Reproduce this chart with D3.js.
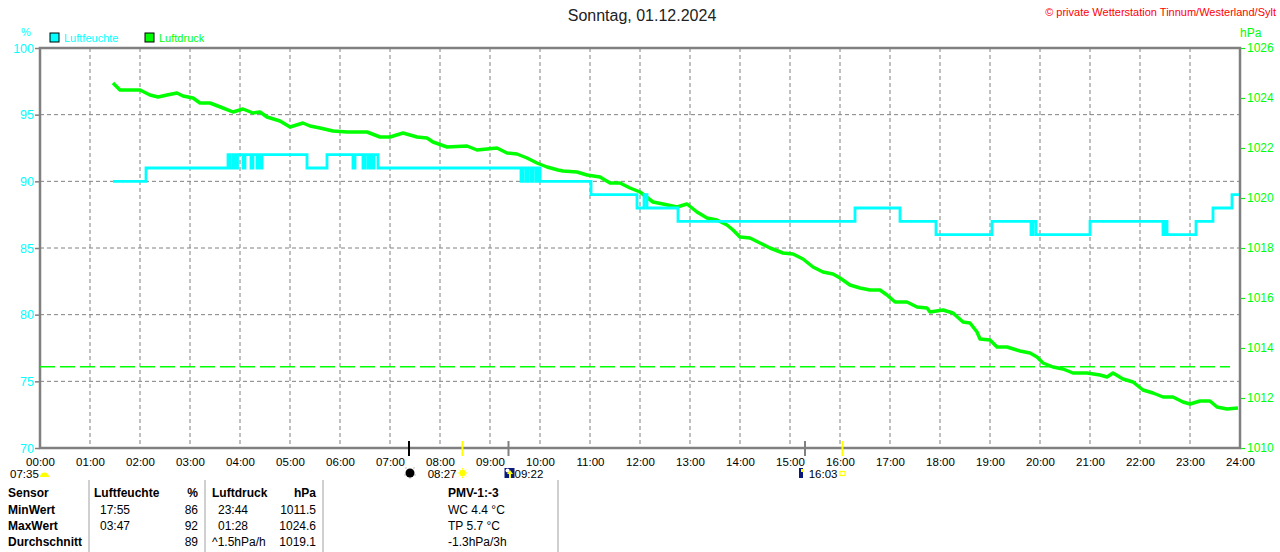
<!DOCTYPE html>
<html lang="de">
	<head>
		<meta charset="utf-8">
		<title>Luftfeuchte und Luftdruck 01.12.2024</title>
		<script type="text/javascript" src="https://cdn.jsdelivr.net/npm/d3@7"></script>
		<style type="text/css">
			body { margin: 0; background: #fff; }
			svg text { font-family: "Liberation Sans", Arial, sans-serif; }
			.axis path { display: none; }
			.grid line { stroke: #808080; stroke-width: 1; stroke-dasharray: 4,3; }
		</style>
	</head>
	<body>
		<script type="text/javascript">

			// tick values and labels
			var hourTicks = [0,1,2,3,4,5,6,7,8,9,10,11,12,13,14,15,16,17,18,19,20,21,22,23,24];
			var hourLabels = ["00:00","01:00","02:00","03:00","04:00","05:00","06:00","07:00","08:00","09:00","10:00","11:00","12:00",
				"13:00","14:00","15:00","16:00","17:00","18:00","19:00","20:00","21:00","22:00","23:00","24:00"];
			var humTicks = [70,75,80,85,90,95,100];
			var presTicks = [1010,1012,1014,1016,1018,1020,1022,1024,1026];

			// Luftfeuchte (%), steps: time in hours -> value
			var humTimes = [1.46,2.12,3.76,3.80,3.86,3.90,3.95,4.06,4.10,4.22,4.26,4.34,4.37,4.41,4.44,
				5.34,5.74,6.26,6.30,6.46,6.50,6.56,6.60,6.64,6.68,6.76,
				9.62,9.66,9.72,9.76,9.82,9.86,9.92,9.96,10.00,
				11.02,11.94,12.08,12.14,12.76,16.30,17.20,17.92,19.04,19.82,19.86,19.92,21.00,
				22.46,22.50,22.54,23.12,23.46,23.84,23.98];
			var humValues = [90,91,92,91,92,91,92,91,92,91,92,91,92,91,92,
				91,92,91,92,91,92,91,92,91,92,91,
				90,91,90,91,90,91,90,91,90,
				89,88,89,88,87,88,87,86,87,86,87,86,87,
				86,87,86,87,88,89,89];

			// Luftdruck (hPa)
			var presTimes = [1.46,1.60,2.00,2.20,2.36,2.54,2.74,2.86,3.06,3.20,3.40,3.66,3.86,4.06,4.26,4.40,4.54,4.80,5.00,
				5.26,5.40,5.60,5.86,6.14,6.54,6.80,7.00,7.26,7.54,7.74,7.86,8.14,8.54,8.74,8.94,9.14,9.34,9.54,9.74,9.94,
				10.14,10.36,10.46,10.74,10.94,11.20,11.40,11.60,11.80,12.00,12.26,12.46,12.74,12.94,13.14,13.34,13.54,13.74,13.86,
				14.00,14.20,14.40,14.60,14.86,15.06,15.26,15.46,15.66,15.86,16.00,16.20,16.40,16.60,16.80,16.94,17.10,17.34,17.54,
				17.74,17.80,18.06,18.26,18.46,18.60,18.74,18.80,19.00,19.14,19.34,19.60,19.80,19.94,20.06,20.26,20.46,20.66,20.94,
				21.20,21.34,21.46,21.66,21.86,22.06,22.26,22.46,22.66,22.86,23.00,23.20,23.40,23.54,23.74,23.96];
			var presValues = [1024.60,1024.32,1024.32,1024.12,1024.04,1024.12,1024.20,1024.08,1024.00,1023.80,1023.80,1023.60,1023.44,
				1023.56,1023.40,1023.44,1023.24,1023.08,1022.84,1023.00,1022.88,1022.80,1022.68,1022.64,1022.64,1022.44,1022.44,
				1022.60,1022.44,1022.40,1022.24,1022.04,1022.08,1021.92,1021.96,1022.00,1021.80,1021.76,1021.60,1021.40,
				1021.24,1021.12,1021.08,1021.04,1020.92,1020.84,1020.60,1020.60,1020.40,1020.24,1019.84,1019.76,1019.64,1019.76,
				1019.44,1019.20,1019.12,1018.92,1018.72,1018.44,1018.40,1018.20,1018.00,1017.80,1017.76,1017.56,1017.24,1017.04,
				1016.96,1016.80,1016.52,1016.40,1016.32,1016.32,1016.12,1015.84,1015.84,1015.64,1015.60,1015.44,1015.52,1015.40,
				1015.04,1015.00,1014.64,1014.36,1014.32,1014.04,1014.04,1013.88,1013.80,1013.64,1013.40,1013.24,1013.16,1013.00,
				1013.00,1012.92,1012.84,1013.00,1012.76,1012.64,1012.32,1012.20,1012.04,1012.04,1011.84,1011.76,1011.88,1011.88,
				1011.64,1011.56,1011.60];
			var refPressure = 1013.25;

			// sun / moon events on the time axis
			var eventTimes = [7.38, 8.45, 9.37, 15.30, 16.05];
			var eventKinds = ["newmoon","sunrise","moonrise","moonset","sunset"];

			// statistics table
			var tableHead = ["Sensor","Luftfeuchte","%","Luftdruck","hPa","PMV-1:-3"];
			var rowNames = ["MinWert","MaxWert","Durchschnitt"];
			var humTimesTab = ["17:55","03:47",""];
			var humValuesTab = ["86","92","89"];
			var presTimesTab = ["23:44","01:28","^1.5hPa/h"];
			var presValuesTab = ["1011.5","1024.6","1019.1"];
			var extraTab = ["WC 4.4 °C","TP 5.7 °C","-1.3hPa/3h"];

			var w = 1280;
			var h = 552;
			var cyan = "#00ffff";
			var green = "#00ff00";
			var frame = "#808080";

			var svg = d3.select("body").append("svg")
				.attr("width", w)
				.attr("height", h);

			var x = d3.scaleLinear().domain([0,24]).range([40,1240]);
			var yHum = d3.scaleLinear().domain([70,100]).range([448,48]);
			var yPres = d3.scaleLinear().domain([1010,1026]).range([448,48]);

			// titles
			svg.append("text")
				.attr("x", 642).attr("y", 21)
				.attr("text-anchor", "middle")
				.style("font-size", "16px")
				.style("fill", "#222")
				.text("Sonntag, 01.12.2024");

			svg.append("text")
				.attr("x", 1276).attr("y", 16)
				.attr("text-anchor", "end")
				.style("font-size", "11px")
				.style("fill", "#ff0000")
				.text("© private Wetterstation Tinnum/Westerland/Sylt");

			// legend
			var legend = [["Luftfeuchte", cyan, 50], ["Luftdruck", green, 145]];
			legend.forEach(function(d){
				svg.append("rect")
					.attr("x", d[2]).attr("y", 33)
					.attr("width", 9).attr("height", 9)
					.style("fill", d[1]).style("stroke", "#000");
				svg.append("text")
					.attr("x", d[2] + 14).attr("y", 42)
					.style("font-size", "11px")
					.style("fill", d[1])
					.text(d[0]);
			});

			svg.append("text").attr("x", 26).attr("y", 36).attr("text-anchor", "middle")
				.style("font-size", "11px").style("fill", cyan).text("%");
			svg.append("text").attr("x", 1240).attr("y", 37)
				.style("font-size", "12px").style("fill", green).text("hPa");

			// grid
			var grid = svg.append("g").attr("class", "grid");
			grid.selectAll("line.v")
				.data(hourTicks.slice(1, -1))
				.enter().append("line")
				.attr("class", "v")
				.attr("x1", function(d){ return x(d); })
				.attr("x2", function(d){ return x(d); })
				.attr("y1", yHum(100)).attr("y2", yHum(70));
			grid.selectAll("line.hz")
				.data(humTicks.slice(1, -1))
				.enter().append("line")
				.attr("class", "hz")
				.attr("x1", x(0)).attr("x2", x(24))
				.attr("y1", function(d){ return yHum(d); })
				.attr("y2", function(d){ return yHum(d); });

			// axes
			var leftAxis = svg.append("g")
				.attr("class", "axis")
				.attr("transform", "translate(" + x(0) + ",0)")
				.call(d3.axisLeft(yHum).tickValues(humTicks).tickSize(5).tickPadding(1));
			leftAxis.selectAll("line").style("stroke", frame).style("stroke-width", 1.5);
			leftAxis.selectAll("text").style("fill", cyan).style("font-size", "12.5px").style("font-family", "Liberation Sans, Arial, sans-serif");

			var rightAxis = svg.append("g")
				.attr("class", "axis")
				.attr("transform", "translate(" + x(24) + ",0)")
				.call(d3.axisRight(yPres).tickValues(presTicks).tickSize(5).tickPadding(2).tickFormat(d3.format("d")));
			rightAxis.selectAll("line").style("stroke", green).style("stroke-width", 1.2);
			rightAxis.selectAll("text").style("fill", green).style("font-size", "12px").style("font-family", "Liberation Sans, Arial, sans-serif");

			var bottomAxis = svg.append("g")
				.attr("class", "axis")
				.attr("transform", "translate(0," + yHum(70) + ")")
				.call(d3.axisBottom(x).tickValues(hourTicks).tickSize(0).tickPadding(10)
					.tickFormat(function(d, i){ return hourLabels[i]; }));
			bottomAxis.selectAll("text").style("fill", "#000").style("font-size", "11.5px").style("font-family", "Liberation Sans, Arial, sans-serif");

			// frame
			svg.append("rect")
				.attr("x", x(0)).attr("y", yHum(100))
				.attr("width", x(24) - x(0)).attr("height", yHum(70) - yHum(100))
				.style("fill", "none")
				.style("stroke", frame)
				.style("stroke-width", 2.5);

			// reference pressure
			svg.append("line")
				.attr("x1", x(0)).attr("x2", x(23.8))
				.attr("y1", yPres(refPressure)).attr("y2", yPres(refPressure))
				.style("stroke", green)
				.style("stroke-width", 1.5)
				.style("stroke-dasharray", "15,5");

			// pressure line
			var presLine = d3.line()
				.x(function(d, i){ return x(presTimes[i]); })
				.y(function(d){ return yPres(d); });
			svg.append("path")
				.datum(presValues)
				.attr("d", presLine)
				.style("fill", "none")
				.style("stroke", green)
				.style("stroke-width", 3.5)
				.style("stroke-linejoin", "round");

			// humidity steps
			var humLine = d3.line()
				.x(function(d, i){ return x(humTimes[i]); })
				.y(function(d){ return yHum(d); })
				.curve(d3.curveStepAfter);
			svg.append("path")
				.datum(humValues)
				.attr("d", humLine)
				.style("fill", "none")
				.style("stroke", cyan)
				.style("stroke-width", 2.8);

			// event markers on the time axis
			var eventColor = { newmoon: "#000", sunrise: "#ffff00", moonrise: "#808080", moonset: "#808080", sunset: "#ffff00" };
			svg.selectAll("line.event")
				.data(eventTimes)
				.enter().append("line")
				.attr("class", "event")
				.attr("x1", function(d){ return x(d); })
				.attr("x2", function(d){ return x(d); })
				.attr("y1", 441).attr("y2", 456)
				.style("stroke", function(d, i){ return eventColor[eventKinds[i]]; })
				.style("stroke-width", function(d, i){ return eventKinds[i].indexOf("moon") == 4 ? 3 : 2; });

			// icons row
			var icons = svg.append("g").style("font-size", "11.5px");
			icons.append("text").attr("x", 10).attr("y", 478).text("07:35");
			icons.append("path").attr("d", "M40,477 A4.5,4.5 0 0 1 49,477 Z").style("fill", "#ffff00");

			var nm = x(eventTimes[0]) + 1;
			icons.append("rect").attr("x", nm - 5).attr("y", 468).attr("width", 10).attr("height", 10)
				.style("fill", "none").style("stroke", "#c0c0c0").style("stroke-dasharray", "2,6");
			icons.append("circle").attr("cx", nm).attr("cy", 473).attr("r", 4.5).style("fill", "#000");

			var sr = x(eventTimes[1]);
			icons.append("text").attr("x", sr - 6).attr("y", 478).attr("text-anchor", "end").text("08:27");
			icons.append("circle").attr("cx", sr).attr("cy", 473).attr("r", 3.2).style("fill", "#ffff00");
			[0,45,90,135,180,225,270,315].forEach(function(a){
				var r = a * Math.PI / 180;
				icons.append("line")
					.attr("x1", sr + Math.cos(r) * 3.5).attr("y1", 473 + Math.sin(r) * 3.5)
					.attr("x2", sr + Math.cos(r) * 5).attr("y2", 473 + Math.sin(r) * 5)
					.style("stroke", "#ffff00").style("stroke-width", 1);
			});

			var mr = x(eventTimes[2]);
			icons.append("rect").attr("x", mr - 4).attr("y", 468).attr("width", 10).attr("height", 10).style("fill", "#0a1a7a");
			icons.append("circle").attr("cx", mr - 1).attr("cy", 470.5).attr("r", 2).style("fill", "#fff");
			icons.append("path").attr("d", "M" + (mr + 1.5) + ",470 l3,4 h-2 v4 h-2 v-4 h-2 Z").style("fill", "#ffff00");
			icons.append("text").attr("x", mr + 6).attr("y", 478).text("09:22");

			var ms = x(eventTimes[3]);
			icons.append("rect").attr("x", ms - 6).attr("y", 468).attr("width", 4).attr("height", 10).style("fill", "#0a1a7a");
			icons.append("rect").attr("x", ms - 4).attr("y", 469).attr("width", 2).attr("height", 3).style("fill", "#ffff00");
			var ss = x(eventTimes[4]);
			icons.append("text").attr("x", ss - 5).attr("y", 478).attr("text-anchor", "end").text("16:03");
			icons.append("rect").attr("x", ss - 2.5).attr("y", 471.5).attr("width", 5).attr("height", 4)
				.style("fill", "none").style("stroke", "#ffff00").style("stroke-width", 1.2);

			// statistics table
			var table = svg.append("g").style("font-size", "12px").style("fill", "#000");
			[89, 205, 323, 558].forEach(function(xx){
				table.append("line").attr("x1", xx).attr("x2", xx).attr("y1", 480).attr("y2", 552)
					.style("stroke", "#a0a0a0").style("stroke-width", 1);
			});
			var rowY = [497, 514, 530, 546];
			var bold = "bold";
			table.append("text").attr("x", 8).attr("y", rowY[0]).style("font-weight", bold).text(tableHead[0]);
			table.append("text").attr("x", 94).attr("y", rowY[0]).style("font-weight", bold).text(tableHead[1]);
			table.append("text").attr("x", 198).attr("y", rowY[0]).attr("text-anchor", "end").style("font-weight", bold).text(tableHead[2]);
			table.append("text").attr("x", 212).attr("y", rowY[0]).style("font-weight", bold).text(tableHead[3]);
			table.append("text").attr("x", 316).attr("y", rowY[0]).attr("text-anchor", "end").style("font-weight", bold).text(tableHead[4]);
			table.append("text").attr("x", 448).attr("y", rowY[0]).style("font-weight", bold).text(tableHead[5]);

			rowNames.forEach(function(name, i){
				var yy = rowY[i + 1];
				table.append("text").attr("x", 8).attr("y", yy).style("font-weight", bold).text(name);
				table.append("text").attr("x", 100).attr("y", yy).text(humTimesTab[i]);
				table.append("text").attr("x", 198).attr("y", yy).attr("text-anchor", "end").text(humValuesTab[i]);
				table.append("text").attr("x", i == 2 ? 212 : 218).attr("y", yy).text(presTimesTab[i]);
				table.append("text").attr("x", 316).attr("y", yy).attr("text-anchor", "end").text(presValuesTab[i]);
				table.append("text").attr("x", 448).attr("y", yy).text(extraTab[i]);
			});

		</script>
	</body>
</html>
